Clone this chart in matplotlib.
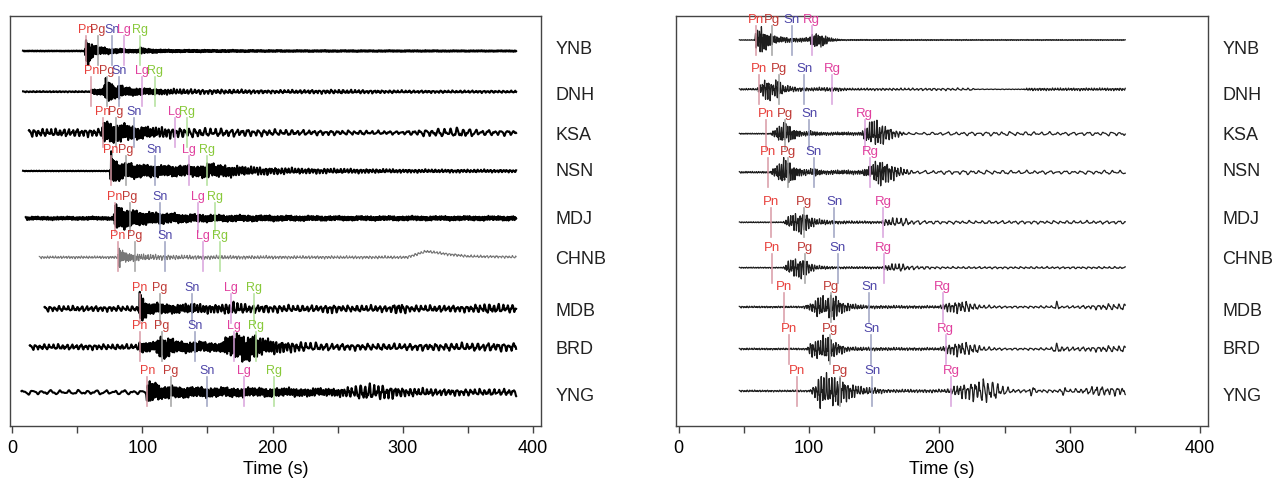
import numpy as np
import matplotlib
matplotlib.use('Agg')
import matplotlib.pyplot as plt
import matplotlib.transforms as mtransforms

plt.rcParams['font.family'] = ['Liberation Sans Narrow', 'Liberation Sans', 'DejaVu Sans']

# ---------------------------------------------------------------------------
# data (times in s, amplitudes in screen pixels)
stations = ['YNB', 'DNH', 'KSA', 'NSN', 'MDJ', 'CHNB', 'MDB', 'BRD', 'YNG']

left_phases = ['Pn', 'Pg', 'Sn', 'Lg', 'Rg']
right_phases = ['Pn', 'Pg', 'Sn', 'Rg']

left_picks = [
    [56.6, 66.0, 76.8, 86.3, 98.6],
    [61.0, 73.0, 82.2, 99.6, 109.4],
    [70.0, 79.7, 93.5, 125.0, 134.0],
    [75.8, 87.3, 109.4, 135.7, 149.5],
    [78.9, 90.4, 113.7, 143.0, 155.6],
    [81.4, 94.5, 117.3, 146.4, 159.5],
    [98.0, 113.4, 138.5, 167.9, 185.6],
    [98.0, 115.2, 140.8, 170.2, 187.6],
    [104.0, 122.0, 149.5, 177.9, 201.0],
]
right_picks = [
    [59.0, 71.4, 86.7, 102.0],
    [61.6, 77.0, 96.2, 117.6],
    [66.8, 81.6, 100.2, 142.7],
    [68.3, 83.6, 103.6, 147.0],
    [70.8, 96.2, 119.4, 156.6],
    [71.6, 97.0, 122.0, 157.3],
    [80.8, 117.0, 146.0, 202.6],
    [84.4, 116.0, 147.6, 204.9],
    [90.8, 123.7, 148.6, 209.0],
]

left_start = [8.5, 8.5, 13.0, 8.5, 10.6, 21.0, 25.0, 13.7, 7.3]
left_end = [387, 387, 387, 387, 387, 387, 387, 387, 387]
right_start = [46.5] * 9
right_end = [342.6] * 9

# envelope key points (time, half amplitude)
left_env = [
    [(8.5, 0.4), (56, 0.4), (56.6, 16), (59, 11), (62, 6), (66, 4), (75, 2.5), (90, 1.5), (97, 1.5), (99, 3.5), (103, 2), (120, 1.2), (200, 0.8), (387, 0.6)],
    [(8.5, 0.5), (60, 0.5), (61, 2), (70, 3), (72, 11), (76, 9), (80, 5), (83, 7), (86, 4), (100, 3), (120, 2.5), (200, 1.5), (250, 1.8), (300, 1.2), (387, 1.0)],
    [(13, 3.5), (69, 3.5), (70, 11), (75, 9), (85, 8), (95, 6), (110, 5), (130, 4.5), (150, 4), (220, 2.5), (267, 2), (300, 1.5), (315, 3), (345, 4.5), (360, 2.5), (387, 2.5)],
    [(8.5, 0.3), (75, 0.3), (75.8, 16), (78, 11), (85, 7), (90, 7), (100, 6), (120, 5), (140, 5), (150, 7), (160, 6), (180, 4), (220, 2.5), (300, 1.5), (387, 1.2)],
    [(10.6, 1.5), (78, 1.5), (79, 13), (83, 10), (90, 8), (100, 6), (115, 5), (130, 4), (160, 3), (250, 2), (387, 2)],
    [(21, 1.2), (81, 1.2), (81.5, 13), (84, 6), (90, 4), (100, 3), (130, 2), (200, 1.5), (387, 1.2)],
    [(25, 2.5), (97, 2.5), (98, 15), (101, 10), (105, 5), (130, 4), (138, 5), (145, 4), (160, 4), (170, 6), (180, 4), (220, 3), (240, 3), (244, 5), (250, 3), (290, 3), (297, 5.5), (305, 3), (350, 3), (364, 4.5), (387, 3.5)],
    [(13.7, 2.5), (97, 2.5), (98, 5), (110, 4), (114, 11), (120, 9), (128, 5), (140, 5), (160, 4), (166, 10), (175, 13), (185, 12), (195, 7), (210, 5), (250, 3), (300, 3), (387, 4)],
    [(7.3, 2), (103, 2), (104, 11), (108, 9), (115, 6), (130, 5), (150, 4.5), (200, 4), (250, 3.5), (260, 5), (270, 8), (280, 7), (290, 6), (300, 4), (330, 3), (387, 3)],
]
left_period = [
    [(0, 1.2), (400, 1.2)],
    [(0, 2.5), (60, 2.5), (61, 0.8), (100, 1.2), (140, 3), (400, 3)],
    [(0, 3.3), (69, 3.3), (70, 0.8), (100, 1.5), (140, 4), (400, 5)],
    [(0, 2), (75, 2), (76, 0.8), (130, 1.2), (200, 2.5), (400, 2.5)],
    [(0, 1.5), (78, 1.5), (79, 0.8), (130, 1.2), (400, 1.5)],
    [(0, 2), (81, 2), (82, 0.8), (110, 2), (400, 2.5)],
    [(0, 3.5), (97, 3.5), (98, 0.8), (130, 2), (200, 3.5), (400, 3.5)],
    [(0, 3.5), (97, 3.5), (98, 1), (200, 2), (230, 4), (400, 4)],
    [(0, 7), (103, 7), (104, 0.8), (150, 1.5), (250, 2), (265, 3.5), (300, 3), (400, 4)],
]
# slow drift seen on CHNB (time, offset)
chnb_drift = [(0, 0), (303, 0), (318, 6), (335, 3), (350, 1), (400, 0)]

right_env = [
    [(46.5, 0.3), (58, 0.3), (59, 8), (63, 14), (67, 8), (72, 5), (76, 3), (90, 2), (100, 2), (103, 7), (110, 6), (116, 2), (125, 0.5), (342.6, 0.4)],
    [(46.5, 0.8), (60, 0.8), (62, 4), (68, 12), (72, 6), (76, 10), (80, 4), (90, 2), (100, 1.5), (120, 2), (130, 1), (224, 1.2), (228, 0.3), (264, 0.3), (268, 1.2), (342.6, 1.2)],
    [(46.5, 0.5), (70, 0.5), (74, 4), (78, 9), (82, 10), (88, 5), (95, 2), (100, 2.5), (110, 1.5), (140, 1.5), (144, 8), (150, 13), (156, 10), (165, 4), (175, 1), (200, 1.5), (250, 2), (300, 1.5), (342.6, 2)],
    [(46.5, 0.8), (70, 0.8), (75, 6), (80, 13), (86, 9), (92, 4), (100, 2.5), (104, 4), (110, 2), (140, 2), (148, 6), (153, 13), (160, 10), (170, 4), (180, 1.5), (220, 2), (300, 1.5), (342.6, 2)],
    [(46.5, 0.5), (80, 0.5), (85, 6), (90, 9), (96, 11), (100, 6), (106, 3), (120, 1.5), (155, 1), (158, 3), (165, 4), (172, 4), (180, 2), (200, 1.5), (342.6, 1.5)],
    [(46.5, 0.5), (80, 0.5), (85, 7), (90, 9), (96, 10), (100, 5), (106, 2), (120, 1), (156, 1), (160, 3), (170, 4), (176, 2), (200, 1), (342.6, 1)],
    [(46.5, 0.8), (95, 0.8), (102, 4), (108, 11), (113, 7), (118, 15), (124, 6), (132, 3), (145, 1.5), (200, 1.2), (205, 4), (215, 6), (222, 5), (230, 2), (250, 1), (288, 1.2), (290, 5), (293, 1), (310, 1.5), (330, 3), (342.6, 3)],
    [(46.5, 0.8), (98, 0.8), (102, 8), (108, 9), (114, 13), (120, 7), (130, 2), (150, 1.5), (200, 1.2), (206, 4), (214, 7), (222, 6), (235, 2), (250, 1), (285, 1.2), (290, 5), (296, 2), (310, 2), (330, 3), (342.6, 3)],
    [(46.5, 0.8), (100, 0.8), (104, 5), (108, 16), (115, 14), (122, 15), (130, 8), (140, 4), (150, 3), (160, 1.5), (205, 1.5), (215, 6), (225, 9), (236, 12), (245, 7), (255, 2), (268, 1.2), (271, 6), (274, 1.5), (293, 1.5), (295, 5), (298, 1.5), (315, 3), (319, 6), (325, 4), (342.6, 4)],
]
right_period = [
    [(0, 1.5), (400, 1.5)],
    [(0, 1.5), (130, 2), (220, 4), (265, 2), (400, 2)],
    [(0, 1.6), (140, 1.6), (170, 2.5), (180, 6), (400, 6)],
    [(0, 1.6), (150, 1.6), (175, 2.5), (185, 6), (400, 6)],
    [(0, 1.6), (155, 2), (185, 5), (400, 5)],
    [(0, 1.6), (155, 2), (185, 4), (400, 4)],
    [(0, 1.8), (200, 2), (240, 4), (400, 4)],
    [(0, 1.8), (200, 2), (240, 4), (400, 4)],
    [(0, 1.8), (205, 2.2), (250, 4), (400, 4)],
]

# ---------------------------------------------------------------------------
# layout (screen pixels from top of frame)
left_base = [51, 91.7, 132.7, 171, 218.3, 257.3, 308.7, 347, 392.3]
right_base = [40, 89.3, 133.7, 172.3, 222.3, 267.7, 307, 349, 391]
label_y = [50, 96, 136, 172, 220, 260, 311, 349, 396]

text_col = {'Pn': '#e8413c', 'Pg': '#bf3a36', 'Sn': '#4d45a8', 'Lg': '#e0409e', 'Rg': '#88c93a'}
line_col = {'Pn': '#d898a4', 'Pg': '#a0a0a0', 'Sn': '#9aa0c0', 'Lg': '#d8a0dc', 'Rg': '#b0e098'}


def waveform(t0, t1, env, per, dt=0.1):
    t = np.arange(t0, t1, dt)
    et, ea = zip(*env)
    pt, pp = zip(*per)
    amp = np.interp(t, et, ea)
    ph = np.cumsum(2 * np.pi * dt / np.interp(t, pt, pp))
    c = (np.sin(ph) + 0.45 * np.sin(1.93 * ph + 1.1) + 0.3 * np.sin(0.61 * ph + 2.3)
         + 0.2 * np.sin(3.1 * ph + 0.7)) / 1.5
    return t, amp * c


fig = plt.figure(figsize=(12.72, 4.87), dpi=100)
W, H = 1272, 487
ax1 = fig.add_axes([10 / W, 61 / H, 531 / W, 410 / H])
ax2 = fig.add_axes([676.4 / W, 61 / H, 531.6 / W, 410 / H])


def style(ax, xl):
    ax.set_xlim(*xl)
    ax.set_ylim(426, 16)
    ax.set_yticks([])
    ax.set_xticks([0, 100, 200, 300, 400])
    ax.set_xticks([50, 150, 250, 350], minor=True)
    ax.tick_params(axis='x', which='both', direction='out', length=5, width=1,
                   color='#444444', labelsize=13, pad=5)
    for s in ax.spines.values():
        s.set_color('#444444')
        s.set_linewidth(1)
    ax.set_xlabel('Time (s)', fontsize=13, labelpad=3)
    tr = mtransforms.blended_transform_factory(ax.transAxes, ax.transData)
    for name, y in zip(stations, label_y):
        ax.text(1.027, y, name, transform=tr, fontsize=13, va='center', ha='left',
                color='#222222', clip_on=False)


style(ax1, (-1.5, 406))
style(ax2, (-1.8, 406))

# left panel
for i in range(len(stations)):
    t, s = waveform(left_start[i], left_end[i], left_env[i], left_period[i])
    if stations[i] == 'CHNB':
        dtm, dof = zip(*chnb_drift)
        s = s + np.interp(t, dtm, dof)
        ax1.plot(t, left_base[i] - s, color='#777777', lw=0.8, zorder=2)
    else:
        ax1.plot(t, left_base[i] - s, color='black', lw=1.5, zorder=2)
    for ph, tp in zip(left_phases, left_picks[i]):
        b = left_base[i]
        ax1.plot([tp, tp], [b - 15, b + 14], color=line_col[ph], lw=1.2, alpha=0.9, zorder=3)
        ax1.text(tp, b - 21, ph, color=text_col[ph], fontsize=9, ha='center', va='center', zorder=4)

# right panel
rcol = dict(text_col, Rg='#e0409e')
rline = dict(line_col, Rg='#d8a0dc')
for i in range(len(stations)):
    t, s = waveform(right_start[i], right_end[i], right_env[i], right_period[i])
    ax2.plot(t, right_base[i] - s, color='#1e1e1e', lw=0.9, zorder=2)
    for ph, tp in zip(right_phases, right_picks[i]):
        b = right_base[i]
        ax2.plot([tp, tp], [b - 14, b + 15], color=rline[ph], lw=1.2, alpha=0.9, zorder=3)
        ax2.text(tp, b - 20, ph, color=rcol[ph], fontsize=9.5, ha='center', va='center', zorder=4)

fig.savefig('out.png', dpi=100)
